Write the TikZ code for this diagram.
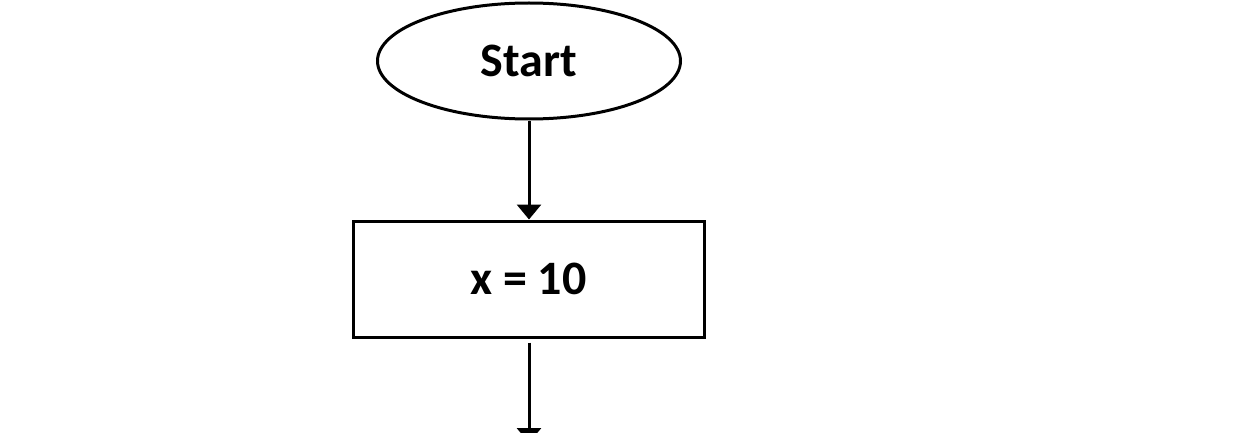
\documentclass[tikz,border=0pt]{standalone}
\usepackage{fontspec}
\setmainfont{Carlito}
\usetikzlibrary{shapes.geometric,arrows.meta}
\begin{document}
\begin{tikzpicture}[x=1pt,y=-1pt,
  shapeline/.style={draw=black,line width=3pt},
  startbox/.style={shapeline,ellipse,minimum width=303pt,minimum height=116pt,inner sep=0pt,font=\bfseries\fontsize{48}{52}\selectfont},
  procbox/.style={shapeline,rectangle,minimum width=351pt,minimum height=116pt,inner sep=0pt,font=\bfseries\fontsize{48}{52}\selectfont},
  flowarrow/.style={line width=3pt,-{Triangle[width=24pt,length=15pt]}}]
\useasboundingbox (0,0) rectangle (1238,433);
\node[startbox] (start) at (529,61) {Start};
\node[procbox] (assign) at (528.5,279) {x = 10};
\coordinate (next) at (529,443);
\draw[flowarrow] (start.south) -- (assign.north -| start.south);
\draw[flowarrow] ([yshift=-4pt]assign.south -| start.south) -- (next);
\end{tikzpicture}
\end{document}
